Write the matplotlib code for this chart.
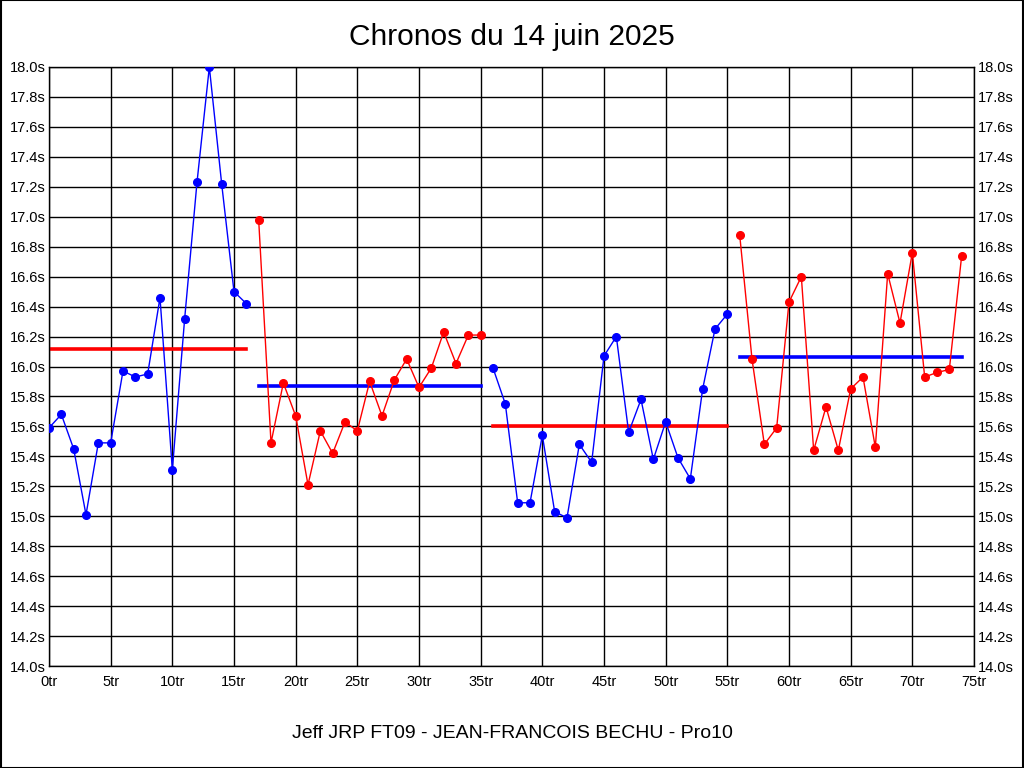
"""Lap times chart for the 14 June 2025 session."""

import matplotlib

matplotlib.use("Agg")
import matplotlib.pyplot as plt
from matplotlib.ticker import FuncFormatter, MultipleLocator


TITLE = "Chronos du 14 juin 2025"
FOOTER = "Jeff JRP FT09 - JEAN-FRANCOIS BECHU - Pro10"

# lap times (seconds) per stint, the first lap of each stint given separately
STINT_STARTS = [0, 17, 36, 56]
STINT_TIMES = [
    [15.59, 15.68, 15.45, 15.01, 15.49, 15.49, 15.97, 15.93, 15.95, 16.46,
     15.31, 16.32, 17.23, 18.00, 17.22, 16.50, 16.42],
    [16.98, 15.49, 15.89, 15.67, 15.21, 15.57, 15.42, 15.63, 15.57, 15.90,
     15.67, 15.91, 16.05, 15.86, 15.99, 16.23, 16.02, 16.21, 16.21],
    [15.99, 15.75, 15.09, 15.09, 15.54, 15.03, 14.99, 15.48, 15.36, 16.07,
     16.20, 15.56, 15.78, 15.38, 15.63, 15.39, 15.25, 15.85, 16.25, 16.35],
    [16.88, 16.05, 15.48, 15.59, 16.43, 16.60, 15.44, 15.73, 15.44, 15.85,
     15.93, 15.46, 16.62, 16.29, 16.76, 15.93, 15.96, 15.98, 16.74],
]
STINT_COLORS = ["#0000ff", "#ff0000", "#0000ff", "#ff0000"]
MEAN_COLORS = ["#ff0000", "#0000ff", "#ff0000", "#0000ff"]


def main() -> None:
    plt.rcParams["font.family"] = ["Liberation Sans", "DejaVu Sans"]
    fig = plt.figure(figsize=(10.24, 7.68), dpi=100)
    ax = fig.add_axes((49 / 1024, 102 / 768, 925 / 1024, 599 / 768))

    for start, times, color, mean_color in zip(
        STINT_STARTS, STINT_TIMES, STINT_COLORS, MEAN_COLORS
    ):
        laps = list(range(start, start + len(times)))
        ax.plot(laps, times, color=color, linewidth=1.0, marker="o",
                markersize=5.5, zorder=3)
        mean = sum(times) / len(times)
        ax.plot([laps[0], laps[-1]], [mean, mean], color=mean_color,
                linewidth=2.6, zorder=2)

    ax.set_xlim(0, 75)
    ax.set_ylim(14.0, 18.0)
    ax.xaxis.set_major_locator(MultipleLocator(5))
    ax.yaxis.set_major_locator(MultipleLocator(0.2))
    ax.xaxis.set_major_formatter(FuncFormatter(lambda v, _: f"{v:.0f}tr"))
    ax.yaxis.set_major_formatter(FuncFormatter(lambda v, _: f"{v:.1f}s"))
    ax.tick_params(axis="x", length=0, labelsize=10.5, pad=6.5)
    ax.tick_params(axis="y", length=0, labelsize=10.5, pad=2.5,
                   labelright=True, right=True)
    ax.grid(True, color="black", linewidth=1.0)
    for spine in ax.spines.values():
        spine.set_linewidth(1.0)

    fig.text(0.5, 1 - 37 / 768, TITLE, ha="center", va="center", fontsize=21.5)
    fig.text(0.5, 1 - 733 / 768, FOOTER, ha="center", va="center",
             fontsize=14)

    border = plt.Rectangle((0.0005, 0.0005), 0.999, 0.999,
                           transform=fig.transFigure, fill=False,
                           edgecolor="black", linewidth=1.5)
    fig.add_artist(border)

    fig.savefig("out.png", dpi=100)
    plt.close(fig)


if __name__ == "__main__":
    main()
